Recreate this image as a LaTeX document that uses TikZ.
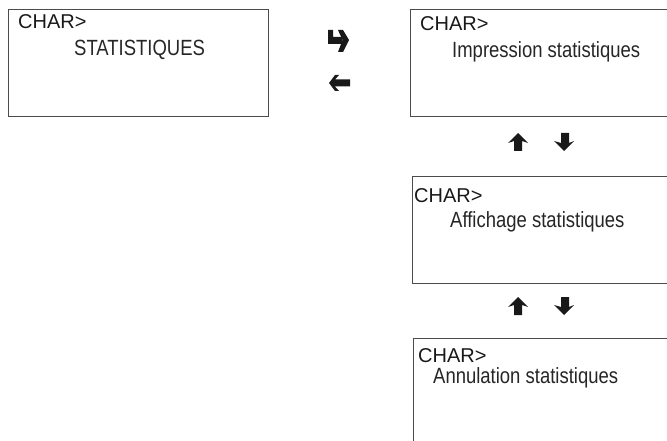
\documentclass[tikz,border=0pt]{standalone}
\usepackage{fontspec}
\setmainfont{Liberation Sans}
\newfontfamily\narrowfont[FakeStretch=0.84]{Liberation Sans}
\usetikzlibrary{positioning, calc}

\begin{document}
\begin{tikzpicture}[x=1pt, y=-1pt,
    screen/.style={draw=black!70, line width=1pt, anchor=north west, minimum height=107pt, inner sep=0pt},
    prompt/.style={anchor=base west, inner sep=0pt, text=black!90, font=\fontsize{20}{24}\selectfont},
    entry/.style={anchor=base west, inner sep=0pt, text=black!85, font=\narrowfont\fontsize{22}{26}\selectfont},
    keyarrow/.style={fill=black!90}]
    \useasboundingbox (0,0) rectangle (667,441);
    \clip (0,0) rectangle (667,441);
    % screens
    \node[screen, minimum width=260pt] (stats) at (8,9) {};
    \node[screen, minimum width=320pt] (print) at (410,9) {};
    \node[screen, minimum width=320pt] (show) at (412,176) {};
    \node[screen, minimum width=320pt, minimum height=130pt] (reset) at (413,338) {};
    % texts
    \node[prompt] (statsPrompt) at ($(stats.north west)+(10,20)$) {CHAR>};
    \node[entry] (statsEntry) at ($(stats.north west)+(66,47)$) {STATISTIQUES};
    \node[prompt] (printPrompt) at ($(print.north west)+(10,22)$) {CHAR>};
    \node[entry] (printEntry) at ($(print.north west)+(42,49)$) {Impression statistiques};
    \node[prompt] (showPrompt) at ($(show.north west)+(2,26)$) {CHAR>};
    \node[entry] (showEntry) at ($(show.north west)+(38,51)$) {Affichage statistiques};
    \node[prompt] (resetPrompt) at ($(reset.north west)+(5,24)$) {CHAR>};
    \node[entry] (resetEntry) at ($(reset.north west)+(20,45)$) {Annulation statistiques};
    % keys
    \fill[keyarrow, shift={(339,41)}] (-11,-11) -- (-6,-11) -- (-6,-4) -- (3,-4) -- (3,3) -- (-11,3) -- cycle;
    \fill[keyarrow, shift={(339,41)}] (-1,-11) -- (4,-11) -- (10,-1) -- (4,11) -- (-1,11) -- (3.5,-1) -- cycle;
    \fill[keyarrow, shift={(339,83)}] (-10,0) -- (-4,-8) -- (0,-8) -- (-4,-3.5) -- (11,-3.5) -- (11,3.5) -- (-4,3.5) -- (0,8) -- (-4,8) -- cycle;
    \foreach \ky in {142,306} {
        \fill[keyarrow, shift={(518,\ky)}] (0,-9) -- (10,1) -- (4,-1) -- (4,9) -- (-4,9) -- (-4,-1) -- (-10,1) -- cycle;
        \fill[keyarrow, shift={(564,\ky)}] (0,9) -- (10,-1) -- (5,1) -- (5,-9) -- (-3,-9) -- (-3,1) -- (-10,-1) -- cycle;
    }
\end{tikzpicture}
\end{document}
